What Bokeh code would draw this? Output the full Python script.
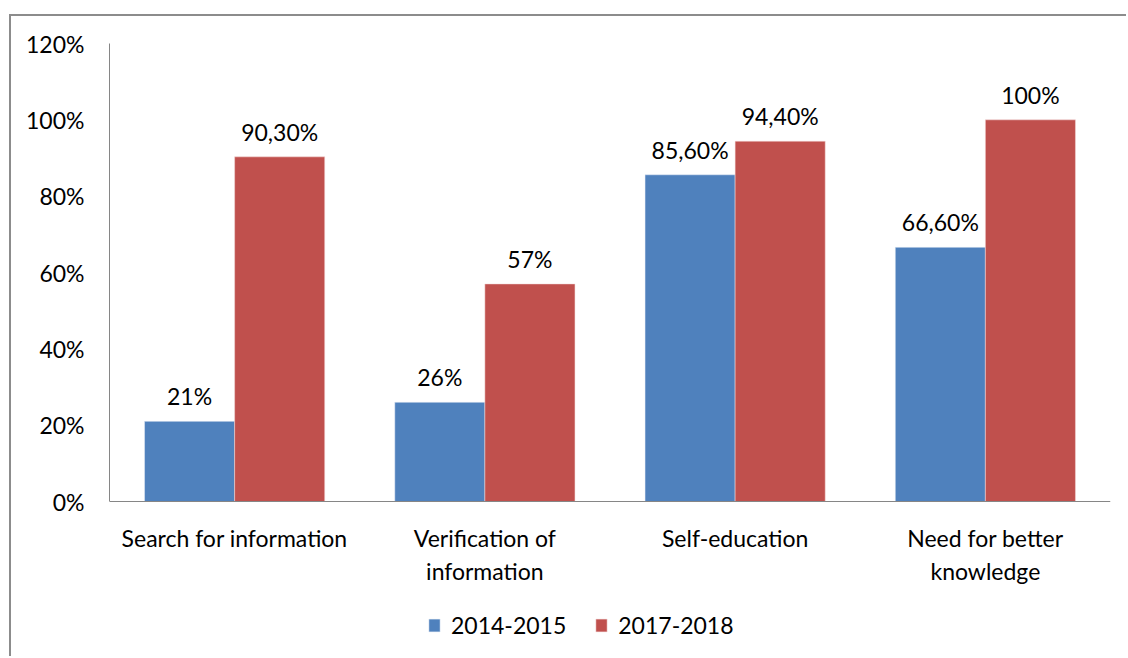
from bokeh.plotting import figure
from bokeh.models import (ColumnDataSource, FactorRange, Range1d, FixedTicker,
                          NumeralTickFormatter, Legend, LegendItem)
from bokeh.transform import dodge
from bokeh.core.properties import value
from bokeh.embed import file_html
from bokeh.resources import INLINE

categories = ["Search for information", "Verification of\ninformation",
              "Self-education", "Need for better\nknowledge"]
series_names = ["2014-2015", "2017-2018"]
values_2014 = [0.21, 0.26, 0.856, 0.666]
values_2017 = [0.903, 0.57, 0.944, 1.00]
labels_2014 = ["21%", "26%", "85,60%", "66,60%"]
labels_2017 = ["90,30%", "57%", "94,40%", "100%"]
y_ticks = [0, 0.2, 0.4, 0.6, 0.8, 1.0, 1.2]

BLUE = "#4F81BD"
RED = "#C0504D"
GRAY = "#868686"
FONT = "Lato"
FS = "23px"

# layout (pixels inside the figure)
W, H = 1117, 642
TOP, LEFT, RIGHT, BOTTOM = 27, 98, 18, 8
AXIS_PX = 458            # pixel height of the 0..1.2 value span
frame_h = H - TOP - BOTTOM
y_start = 1.2 - frame_h * 1.2 / AXIS_PX

src = ColumnDataSource(dict(cat=categories, v1=values_2014, v2=values_2017,
                            l1=labels_2014, l2=labels_2017))

p = figure(width=W, height=H, x_range=FactorRange(*categories, range_padding=0),
           y_range=Range1d(y_start, 1.2), output_backend="svg", toolbar_location=None,
           min_border_left=LEFT, min_border_right=RIGHT, min_border_top=TOP,
           min_border_bottom=BOTTOM)
p.margin = (14, 0, 0, 9)
p.styles = {"border-top": "2px solid #8c8c8c", "border-left": "2px solid #8c8c8c"}
p.outline_line_color = None
p.xgrid.grid_line_color = None
p.ygrid.grid_line_color = None
p.background_fill_color = "white"
p.border_fill_color = "white"

r1 = p.vbar(x=dodge("cat", -0.18, range=p.x_range), top="v1", width=0.36, source=src,
            fill_color=BLUE, line_color="#e8eef6", line_width=0.5)
r2 = p.vbar(x=dodge("cat", 0.18, range=p.x_range), top="v2", width=0.36, source=src,
            fill_color=RED, line_color="#f4dada", line_width=0.5)

p.text(x=dodge("cat", -0.18, range=p.x_range), y="v1", text="l1", source=src,
       text_align="center", text_baseline="bottom", y_offset=-11,
       text_font=value(FONT), text_font_size=FS, text_color="black")
p.text(x=dodge("cat", 0.18, range=p.x_range), y="v2", text="l2", source=src,
       text_align="center", text_baseline="bottom", y_offset=-11,
       text_font=value(FONT), text_font_size=FS, text_color="black")

ya = p.yaxis[0]
ya.ticker = FixedTicker(ticks=y_ticks)
ya.formatter = NumeralTickFormatter(format="0%")
ya.bounds = (0, 1.2)
ya.axis_line_color = GRAY
ya.major_tick_line_color = None
ya.minor_tick_line_color = None
ya.major_tick_out = 0
ya.major_tick_in = 0
ya.major_label_standoff = 25
ya.major_label_text_font = FONT
ya.major_label_text_font_size = FS
ya.major_label_text_color = "black"

xa = p.xaxis[0]
xa.fixed_location = 0
xa.axis_line_color = GRAY
xa.major_tick_line_color = None
xa.major_tick_out = 0
xa.major_tick_in = 0
xa.major_label_standoff = 22
xa.major_label_text_font = FONT
xa.major_label_text_font_size = FS
xa.major_label_text_color = "black"
xa.major_label_orientation = "horizontal"

legend = Legend(items=[LegendItem(label=series_names[0], renderers=[r1]),
                       LegendItem(label=series_names[1], renderers=[r2])],
                orientation="horizontal", location=(318, 11))
legend.border_line_color = None
legend.background_fill_alpha = 0
legend.glyph_width = 14
legend.glyph_height = 16
legend.label_standoff = 10
legend.spacing = 28
legend.label_text_font = FONT
legend.label_text_font_size = FS
legend.label_text_color = "black"
legend.margin = 0
legend.padding = 0
p.add_layout(legend, "center")

open("out.html", "w").write(file_html(p, INLINE))
